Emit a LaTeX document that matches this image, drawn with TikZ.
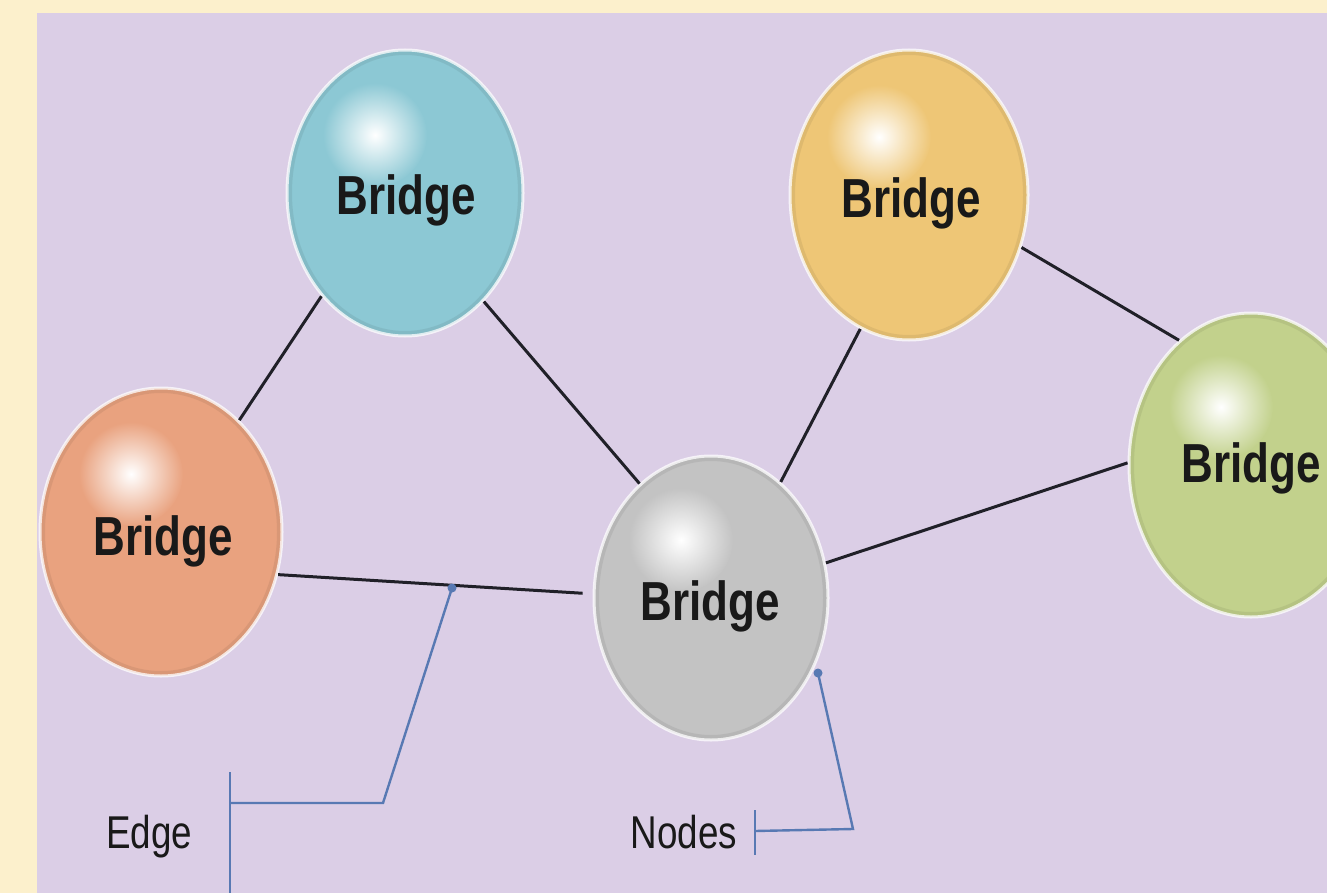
\documentclass[tikz,border=0pt]{standalone}
\usepackage{fontspec}
\newfontfamily\narrowsans[FakeStretch=0.8]{Liberation Sans}
\usetikzlibrary{shapes.geometric,calc}
\definecolor{outerbg}{HTML}{FCF0CC}
\definecolor{panelbg}{HTML}{DBCEE6}
\definecolor{tealc}{HTML}{8CC8D4}
\definecolor{orangec}{HTML}{E9A27F}
\definecolor{grayc}{HTML}{C3C3C3}
\definecolor{yellowc}{HTML}{EEC676}
\definecolor{greenc}{HTML}{C2D18C}
\definecolor{callout}{HTML}{5879B3}
\definecolor{edgec}{HTML}{202028}
\tikzset{
  bub/.style={ellipse, inner sep=0pt, minimum width=236pt, minimum height=286pt,
    fill=#1, draw=white, draw opacity=0.75, line width=3pt,
    path picture={
      \path let \p1=($(path picture bounding box.north east)-(path picture bounding box.center)$) in
        [draw=#1!70!black, draw opacity=0.22, line width=10pt]
        (path picture bounding box.center) ellipse ({\x1} and {\y1});
      \shade[inner color=white, outer color=#1]
        ($(path picture bounding box.center)+(-30pt,58pt)$) circle (52pt);
    }},
  lbl/.style={font=\narrowsans\bfseries\fontsize{55}{60}\selectfont, text=black!90, anchor=base, inner sep=0pt},
  clbl/.style={font=\narrowsans\fontsize{46}{50}\selectfont, text=black!90, anchor=base, inner sep=0pt},
  link/.style={draw=edgec, line width=3pt},
  pointer/.style={draw=callout, line width=2.4pt},
  pdot/.style={circle, fill=callout, inner sep=0pt, minimum size=9pt}
}
\begin{document}
\begin{tikzpicture}[x=1pt,y=-1pt]
\useasboundingbox (0,0) rectangle (1327,893);
\clip (0,0) rectangle (1327,893);
\fill[outerbg] (0,0) rectangle (1327,893);
\fill[panelbg] (37,13) rectangle (1327,893);

% bubbles
\node[bub=tealc] (teal) at (405,193) {};
\node[bub=orangec, minimum width=242pt, minimum height=288pt] (orange) at (161,532) {};
\node[bub=grayc, minimum width=234pt, minimum height=284pt] (gray) at (711,598) {};
\node[bub=yellowc, minimum width=238pt, minimum height=290pt] (yellow) at (909,195) {};
\node[bub=greenc, minimum width=244pt, minimum height=304pt] (green) at (1251,465) {};

% labels
\node[lbl] (tteal) at (406,215) {Bridge};
\node[lbl] (torange) at (163,555) {Bridge};
\node[lbl] (tgray) at (710,620) {Bridge};
\node[lbl] (tyellow) at (911,218) {Bridge};
\node[lbl] (tgreen) at (1251,482) {Bridge};

% edges
\draw[link] (teal.231) -- (orange.55);
\draw[link] (teal.306) -- (gray.122);
\draw[link] (yellow.250) -- (gray.59);
\draw[link] (yellow.335) -- (green.120);
\draw[link] (green.179) -- (gray.17);
\draw[link, shorten >=10pt] (orange.340) -- (gray.178);

% callouts
\node[pdot] (edot) at (452,588) {};
\coordinate (etop) at (230,772);
\coordinate (ebot) at (230,893);
\coordinate (ejoin) at (230,803);
\coordinate (ebend) at (383,803);
\draw[pointer] (etop) -- (ebot);
\draw[pointer] (ejoin) -- (ebend) -- (edot.center);
\node[clbl] (edgelbl) at (149,848) {Edge};

\node[pdot] (ndot) at (818,673) {};
\coordinate (ntop) at (755,810);
\coordinate (nbot) at (755,855);
\coordinate (njoin) at (755,831);
\coordinate (nbend) at (853,829);
\draw[pointer] (ntop) -- (nbot);
\draw[pointer] (njoin) -- (nbend) -- (ndot.center);
\node[clbl] (nodeslbl) at (684,848) {Nodes};
\end{tikzpicture}
\end{document}
